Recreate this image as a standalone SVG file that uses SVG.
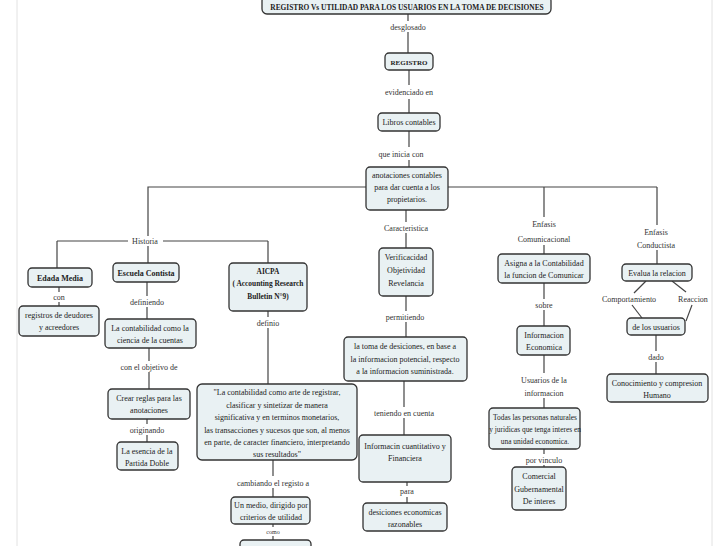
<svg xmlns="http://www.w3.org/2000/svg" width="728" height="546" viewBox="0 0 728 546">
<defs>
<style>
.n rect{fill:#e9f1f3;stroke:#333;stroke-width:1.3}
.n text,.l{font-family:"Liberation Serif","DejaVu Serif",serif;font-size:8px;fill:#222;text-anchor:middle}
.n text.b{font-weight:bold}
.n text.s{font-size:7.4px}
.c line,.c polyline{stroke:#444;stroke-width:1.2;fill:none}
.l{fill:#333}
.pg{stroke:#e2e2e2;stroke-width:1}
</style>
</defs>
<rect width="728" height="546" fill="#fff"/>
<line class="pg" x1="17" y1="0" x2="17" y2="546"/>
<line class="pg" x1="712" y1="0" x2="712" y2="546"/>

<g class="c" id="connectors">
<line x1="408" y1="14" x2="408" y2="21"/><line x1="408" y1="32" x2="408" y2="53"/>
<line x1="409" y1="70" x2="409" y2="85"/><line x1="409" y1="99" x2="409" y2="113"/>
<line x1="409" y1="131" x2="409" y2="147"/><line x1="409" y1="160" x2="409" y2="167"/>
<polyline points="366,187 148,187 148,236"/>
<line x1="57" y1="241" x2="128" y2="241"/><line x1="163" y1="241" x2="268" y2="241"/>
<line x1="57" y1="241" x2="57" y2="268"/>
<line x1="148" y1="246" x2="148" y2="263"/>
<line x1="268" y1="241" x2="268" y2="263"/>
<line x1="59" y1="287" x2="59" y2="292"/><line x1="59" y1="302" x2="59" y2="306"/>
<line x1="147" y1="282" x2="147" y2="296"/><line x1="147" y1="307" x2="147" y2="319"/>
<line x1="149" y1="348" x2="149" y2="361"/><line x1="149" y1="372" x2="149" y2="389"/>
<line x1="147" y1="419" x2="147" y2="424"/><line x1="147" y1="435" x2="147" y2="442"/>
<line x1="268" y1="311" x2="268" y2="317"/><line x1="268" y1="328" x2="268" y2="384"/>
<line x1="273" y1="460" x2="273" y2="476"/><line x1="273" y1="488" x2="273" y2="497"/>
<line x1="273" y1="524" x2="273" y2="527"/><line x1="273" y1="536" x2="273" y2="540"/>
<line x1="406" y1="210" x2="406" y2="222"/><line x1="406" y1="233" x2="406" y2="248"/>
<line x1="406" y1="296" x2="406" y2="311"/><line x1="406" y1="322" x2="406" y2="337"/>
<line x1="404" y1="381" x2="404" y2="407"/><line x1="404" y1="418" x2="404" y2="435"/>
<line x1="407" y1="482" x2="407" y2="486"/><line x1="407" y1="497" x2="407" y2="503"/>
<line x1="448" y1="187" x2="657" y2="187"/>
<line x1="544" y1="187" x2="544" y2="217"/><line x1="544" y1="245" x2="544" y2="254"/>
<line x1="657" y1="187" x2="657" y2="225"/><line x1="657" y1="250" x2="657" y2="264"/>
<line x1="544" y1="283" x2="544" y2="299"/><line x1="544" y1="310" x2="544" y2="326"/>
<line x1="544" y1="355" x2="544" y2="373"/><line x1="544" y1="398" x2="544" y2="408"/>
<line x1="544" y1="449" x2="544" y2="454"/><line x1="544" y1="465" x2="544" y2="467"/>
<line x1="646" y1="281" x2="634" y2="293"/><line x1="632" y1="305" x2="642" y2="318"/>
<line x1="672" y1="281" x2="686" y2="292"/><line x1="692" y1="305" x2="686" y2="321"/>
<line x1="656" y1="335" x2="656" y2="351"/><line x1="656" y1="362" x2="656" y2="374"/>
</g>

<g id="labels">
<text class="l" x="408" y="30">desglosado</text>
<text class="l" x="409" y="95">evidenciado en</text>
<text class="l" x="401" y="157">que inicia con</text>
<text class="l" x="145" y="244">Historia</text>
<text class="l" x="59" y="300">con</text>
<text class="l" x="147" y="305">definiendo</text>
<text class="l" x="149" y="370">con el objetivo de</text>
<text class="l" x="147" y="433">originando</text>
<text class="l" x="268" y="326">definio</text>
<text class="l" x="273" y="486">cambiando el registo a</text>
<text class="l" x="273" y="534" style="font-size:6px">como</text>
<text class="l" x="406" y="231">Caracteristica</text>
<text class="l" x="405" y="320">permitiendo</text>
<text class="l" x="404" y="416">teniendo en cuenta</text>
<text class="l" x="407" y="494">para</text>
<text class="l" x="544" y="227">Enfasis</text>
<text class="l" x="544" y="242">Comunicacional</text>
<text class="l" x="544" y="308">sobre</text>
<text class="l" x="544" y="383">Usuarios de la</text>
<text class="l" x="544" y="396">informacion</text>
<text class="l" x="544" y="463">por vinculo</text>
<text class="l" x="656" y="235">Enfasis</text>
<text class="l" x="656" y="248">Conductista</text>
<text class="l" x="629" y="302">Comportamiento</text>
<text class="l" x="693" y="302">Reaccion</text>
<text class="l" x="656" y="360">dado</text>
</g>

<g class="n" id="n-title"><rect x="262" y="-4" width="289" height="18" rx="5"/><text class="b" x="407" y="9.5" style="font-size:7.4px">REGISTRO Vs UTILIDAD PARA LOS USUARIOS EN LA TOMA DE DECISIONES</text></g>
<g class="n" id="n-registro"><rect x="385" y="53" width="48" height="17" rx="4"/><text class="b" x="409" y="64.5" style="font-size:7px">REGISTRO</text></g>
<g class="n" id="n-libros"><rect x="378" y="113" width="62" height="18" rx="4"/><text x="409" y="125">Libros contables</text></g>
<g class="n" id="n-anotaciones"><rect x="366" y="167" width="82" height="43" rx="4"/><text x="407" y="178">anotaciones contables</text><text x="407" y="190">para dar cuenta a los</text><text x="407" y="202">propietarios.</text></g>

<g class="n" id="n-edada"><rect x="28" y="268" width="64" height="19" rx="4"/><text class="b" x="60" y="280.5">Edada Media</text></g>
<g class="n" id="n-registros"><rect x="19" y="306" width="80" height="30" rx="4"/><text x="59" y="318">registros de deudores</text><text x="59" y="330">y acreedores</text></g>
<g class="n" id="n-escuela"><rect x="113" y="263" width="66" height="19" rx="4"/><text class="b" x="146" y="275.5">Escuela Contista</text></g>
<g class="n" id="n-lacontabilidad"><rect x="105" y="319" width="91" height="29" rx="4"/><text x="150" y="331">La contabilidad como la</text><text x="150" y="343">ciencia de la cuentas</text></g>
<g class="n" id="n-crear"><rect x="108" y="389" width="82" height="30" rx="4"/><text x="149" y="401">Crear reglas para las</text><text x="149" y="413">anotaciones</text></g>
<g class="n" id="n-esencia"><rect x="117" y="442" width="61" height="28" rx="4"/><text x="147" y="454">La esencia de la</text><text x="147" y="466">Partida Doble</text></g>
<g class="n" id="n-aicpa"><rect x="229" y="263" width="78" height="48" rx="4"/><text class="b s" x="268" y="274">AICPA</text><text class="b s" x="268" y="286">( Accounting Research</text><text class="b s" x="268" y="299">Bulletin N°9)</text></g>
<g class="n" id="n-quote"><rect x="197" y="384" width="160" height="76" rx="5"/><text x="277" y="395">"La contabilidad como arte de registrar,</text><text x="277" y="407.5">clasificar y sintetizar de manera</text><text x="277" y="420">significativa y en terminos monetarios,</text><text x="277" y="432.5">las transacciones y sucesos que son, al menos</text><text x="277" y="445">en parte, de caracter financiero, interpretando</text><text x="277" y="457">sus resultados"</text></g>
<g class="n" id="n-unmedio"><rect x="231" y="497" width="79" height="27" rx="4"/><text x="271" y="508">Un medio, dirigido por</text><text x="271" y="520">criterios de utilidad</text></g>
<g class="n" id="n-bottom"><rect x="240" y="540" width="71" height="14" rx="4"/></g>

<g class="n" id="n-verif"><rect x="379" y="248" width="54" height="48" rx="4"/><text x="406" y="260">Verificacidad</text><text x="406" y="273">Objetividad</text><text x="406" y="286">Revelancia</text></g>
<g class="n" id="n-latoma"><rect x="344" y="337" width="123" height="44" rx="4"/><text x="405" y="349">la toma de desiciones, en base a</text><text x="405" y="361.5">la informacion potencial, respecto</text><text x="405" y="374">a la informacion suministrada.</text></g>
<g class="n" id="n-informacin"><rect x="359" y="435" width="92" height="47" rx="4"/><text x="405" y="449">Informacin cuantitativo y</text><text x="405" y="461">Financiera</text></g>
<g class="n" id="n-desiciones"><rect x="363" y="503" width="84" height="28" rx="4"/><text x="405" y="515">desiciones economicas</text><text x="405" y="527">razonables</text></g>

<g class="n" id="n-asigna"><rect x="498" y="254" width="92" height="29" rx="4"/><text x="544" y="265.5">Asigna a la Contabilidad</text><text x="544" y="277.5">la funcion de Comunicar</text></g>
<g class="n" id="n-infoecon"><rect x="517" y="326" width="53" height="29" rx="4"/><text x="544" y="337.5">Informacion</text><text x="544" y="349.5">Economica</text></g>
<g class="n" id="n-todas"><rect x="489" y="408" width="91" height="41" rx="4"/><text class="s" x="535" y="419.5">Todas las personas naturales</text><text class="s" x="535" y="431.5">y juridicas que tenga interes en</text><text class="s" x="535" y="443.5">una unidad economica.</text></g>
<g class="n" id="n-comercial"><rect x="512" y="467" width="54" height="43" rx="4"/><text x="539" y="479">Comercial</text><text x="539" y="491.5">Gubernamental</text><text x="539" y="504">De interes</text></g>

<g class="n" id="n-evalua"><rect x="622" y="264" width="70" height="17" rx="4"/><text x="657" y="275.5">Evalua la relacion</text></g>
<g class="n" id="n-usuarios"><rect x="627" y="318" width="58" height="17" rx="4"/><text x="656" y="329.5">de los usuarios</text></g>
<g class="n" id="n-conocimiento"><rect x="607" y="374" width="101" height="28" rx="4"/><text x="657" y="386">Conocimiento y compresion</text><text x="657" y="398">Humano</text></g>
</svg>
